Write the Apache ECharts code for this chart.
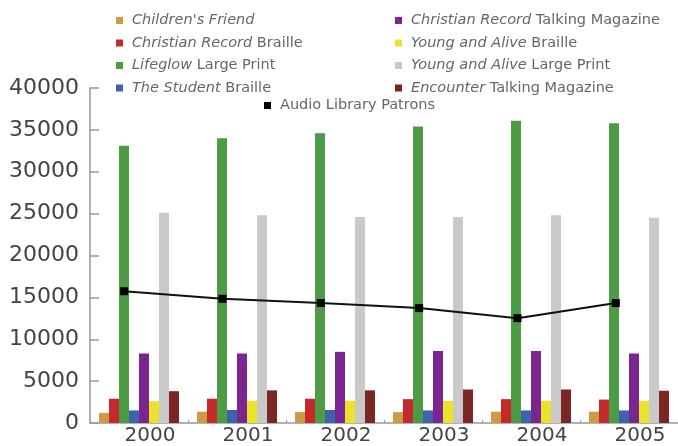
<!DOCTYPE html>
<html>
<head>
<meta charset="utf-8">
<script src="https://cdn.jsdelivr.net/npm/echarts@6/dist/echarts.min.js"></script>
<style>html,body{margin:0;padding:0;background:#fff;}#c{width:678px;height:446px;}</style>
</head>
<body>
<div id="c"></div>
<script>
const years = ['2000', '2001', '2002', '2003', '2004', '2005'];
const yTicks = [0, 40000, 5000];
const childrensFriend = [1200, 1350, 1300, 1300, 1350, 1350];
const christianRecordBraille = [2900, 2900, 2900, 2850, 2850, 2800];
const lifeglowLargePrint = [33100, 34000, 34600, 35400, 36100, 35800];
const studentBraille = [1500, 1550, 1550, 1500, 1500, 1500];
const christianRecordTalking = [8300, 8300, 8500, 8600, 8600, 8300];
const youngAliveBraille = [2600, 2650, 2650, 2650, 2650, 2650];
const youngAliveLargePrint = [25100, 24800, 24600, 24600, 24800, 24500];
const encounterTalking = [3800, 3900, 3900, 4000, 4000, 3850];
const audioLibraryPatrons = [15800, 14900, 14400, 13800, 12600, 14400];

const barNames = ["Children's Friend", 'Christian Record Braille', 'Lifeglow Large Print', 'The Student Braille',
  'Christian Record Talking Magazine', 'Young and Alive Braille', 'Young and Alive Large Print', 'Encounter Talking Magazine'];
const italicParts = ["Children's Friend", 'Christian Record', 'Lifeglow', 'The Student',
  'Christian Record', 'Young and Alive', 'Young and Alive', 'Encounter'];
const barData = [childrensFriend, christianRecordBraille, lifeglowLargePrint, studentBraille,
  christianRecordTalking, youngAliveBraille, youngAliveLargePrint, encounterTalking];
const barColors = ['#cf9a48', '#c42a2a', '#4e9b45', '#3d63ad', '#7a2590', '#ece22a', '#c9c9c9', '#7b2622'];
const lineName = 'Audio Library Patrons';

const fmt = function (name) {
  const idx = barNames.indexOf(name);
  if (idx < 0) return '{n|' + name + '}';
  const it = italicParts[idx];
  const rest = name.slice(it.length);
  return '{i|' + it + '}' + (rest ? '{n|' + rest + '}' : '');
};
const FF = 'DejaVu Sans';
const FS = 14.5;
const legendText = {
  color: '#666',
  fontFamily: FF,
  fontSize: FS,
  padding: [0, 0, 0, 4],
  rich: {
    i: { fontStyle: 'italic', color: '#666', fontFamily: FF, fontSize: FS },
    n: { color: '#666', fontFamily: FF, fontSize: FS }
  }
};
const legendBase = {
  orient: 'vertical', itemWidth: 7, itemHeight: 7, itemGap: 7.5, icon: 'rect',
  padding: 0, formatter: fmt, textStyle: legendText, selectedMode: false
};

const chart = echarts.init(document.getElementById('c'), null, { renderer: 'canvas' });
const series = barNames.map((n, i) => ({
  name: n, type: 'bar', data: barData[i], barWidth: 10, barGap: '0%',
  itemStyle: { color: barColors[i] }, xAxisIndex: 0, yAxisIndex: 0
}));
series.push({
  name: lineName, type: 'line', data: audioLibraryPatrons, xAxisIndex: 1, yAxisIndex: 1,
  symbol: 'rect', symbolSize: 8, z: 10,
  lineStyle: { color: '#111', width: 2 }, itemStyle: { color: '#000' }
});

chart.setOption({
  animation: false,
  backgroundColor: '#fff',
  legend: [
    Object.assign({}, legendBase, { left: 116, top: 13, data: barNames.slice(0, 4) }),
    Object.assign({}, legendBase, { left: 395, top: 13, data: barNames.slice(4, 8) }),
    Object.assign({}, legendBase, { left: 264, top: 98, data: [lineName] })
  ],
  grid: [
    { left: 90, top: 88, width: 590, height: 336 },
    { left: 75, top: 88, width: 590, height: 336 }
  ],
  xAxis: [
    {
      type: 'category', data: years, gridIndex: 0,
      axisLine: { lineStyle: { color: '#999', width: 1.5 } },
      axisTick: { show: true, inside: true, length: 3, lineStyle: { color: '#999' } },
      axisLabel: { color: '#444', fontFamily: 'DejaVu Sans', fontSize: 20, margin: 3, padding: [0, 0, 0, 22] }
    },
    { type: 'category', data: years, gridIndex: 1, show: false }
  ],
  yAxis: [
    {
      type: 'value', gridIndex: 0, min: yTicks[0], max: yTicks[1], interval: yTicks[2],
      axisLine: { show: true, lineStyle: { color: '#999', width: 1.5 } },
      axisTick: { show: true, inside: true, length: 9, lineStyle: { color: '#999', width: 1.5 } },
      splitLine: { show: false },
      axisLabel: { color: '#444', fontFamily: 'DejaVu Sans', fontSize: 22, margin: 11, formatter: function (v) { return String(v); } }
    },
    { type: 'value', gridIndex: 1, min: yTicks[0], max: yTicks[1], interval: yTicks[2], show: false, splitLine: { show: false } }
  ],
  series: series
});
</script>
</body>
</html>
